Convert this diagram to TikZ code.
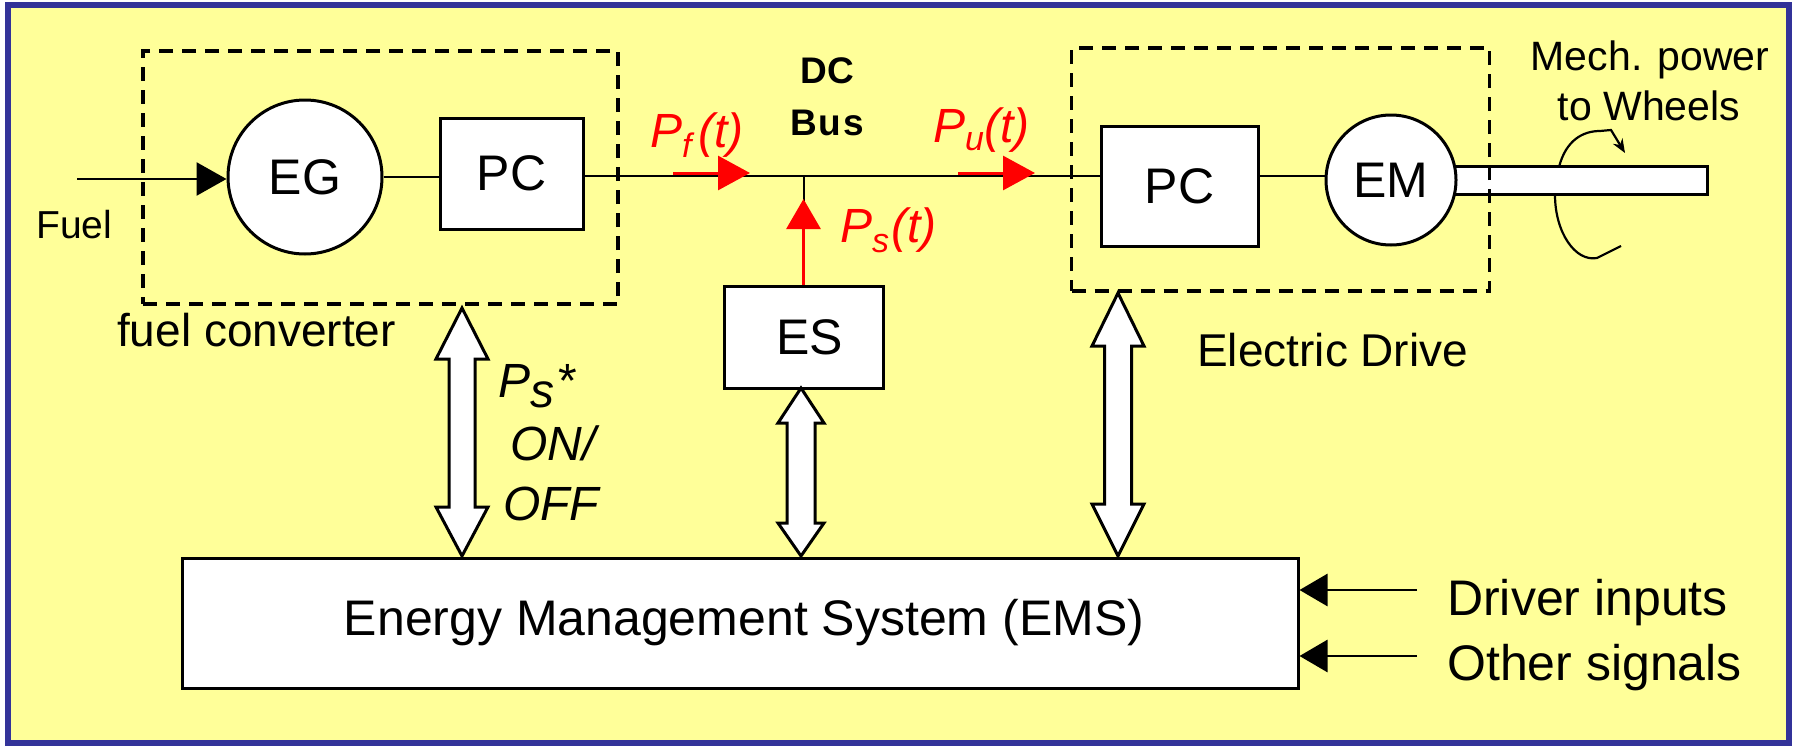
\documentclass[tikz,border=0pt]{standalone}
\usepackage{fontspec}
\setmainfont{Liberation Sans}
\usetikzlibrary{arrows.meta,calc}
\definecolor{bgyellow}{HTML}{FFFF99}
\definecolor{frameblue}{HTML}{333399}
\newcommand\fs[1]{\fontsize{#1}{#1}\selectfont}
\newcommand\lowsub[2]{\raisebox{-#2pt}{\fs{34}#1}}
\newcommand\fatarrow[6]{%
  \draw[fat] (#1) -- ($(#1)+(#3,#5)$) -- ($(#1)+(#4,#5)$) -- ($(#2)+(#4,-#6)$) -- ($(#2)+(#3,-#6)$) -- (#2)
    -- ($(#2)+(-#3,-#6)$) -- ($(#2)+(-#4,-#6)$) -- ($(#1)+(-#4,#5)$) -- ($(#1)+(-#3,#5)$) -- cycle;}
\begin{document}
\begin{tikzpicture}[x=1pt,y=-1pt,
  box/.style={draw, line width=3pt, fill=white, rectangle, inner sep=0pt, font=\fs{50}},
  circ/.style={draw, line width=3pt, fill=white, circle, inner sep=0pt, font=\fs{50}},
  dbox/.style={draw, line width=3.5pt, dash pattern=on 14pt off 9pt, rectangle, inner sep=0pt},
  wire/.style={line width=2.8pt},
  redarr/.style={draw=red, line width=3pt, -{Triangle[length=32pt,width=34pt]}},
  blkarr/.style={line width=2.8pt, -{Triangle[length=30pt,width=33pt]}},
  fat/.style={draw, line width=3pt, fill=white, line join=miter},
  rot/.style={line width=2.2pt},
  lbl/.style={inner sep=0pt, anchor=base west},
  clbl/.style={inner sep=0pt, anchor=base},
  redlbl/.style={lbl, text=red, font=\fs{48}\itshape},
  sig/.style={lbl, font=\fs{50}}]
  \useasboundingbox (0,0) rectangle (1797,747);
  \fill[white] (0,0) rectangle (1797,747);
  \draw[line width=6pt, draw=frameblue, fill=bgyellow] (8,5) rectangle (1789,743);

  % shaft (behind EM)
  \draw[line width=3pt, fill=white] (1391,166) rectangle (1707,194);

  % components
  \node[circ, minimum size=154pt] (eg) at (305,177) {EG};
  \node[box, minimum width=143pt, minimum height=111pt] (pc1) at (511.5,173.5) {PC};
  \node[box, minimum width=157pt, minimum height=120pt] (pc2) at (1179.5,186) {PC};
  \node[circ, minimum size=130pt] (em) at (1391,180) {EM};
  \node[box, minimum width=159pt, minimum height=102pt] (es) at (803.5,337) {\hspace*{12pt}ES};
  \node[box, minimum width=1116pt, minimum height=130pt] (ems) at (740,623) {\raisebox{-6pt}{\hspace*{8pt}Energy Management System (EMS)}};

  % wires
  \coordinate (jn) at (804,176);
  \coordinate (fuel0) at (77,179);
  \draw[wire] (eg.east) -- (eg.east -| pc1.west);
  \draw[wire] (pc1.east |- jn) -- (jn) -- (pc2.west |- jn);
  \draw[wire] (pc2.east |- jn) -- (em.west |- jn);
  \draw[wire] (jn) -- (es.north -| jn);
  \draw[blkarr] (fuel0) -- (fuel0 -| eg.west);

  % dashed groups
  \node[dbox, minimum width=475pt, minimum height=253pt] (fc) at (380.5,177.5) {};
  \node[dbox, minimum width=418pt, minimum height=243pt] (ed) at (1280.5,169.5) {};

  % red power flow arrows
  \coordinate (pf0) at (673,173); \coordinate (pf1) at (750,173);
  \coordinate (pu0) at (958,173); \coordinate (pu1) at (1035,173);
  \coordinate (pstip) at (803.5,199);
  \draw[redarr] (pf0) -- (pf1);
  \draw[redarr] (pu0) -- (pu1);
  \draw[redarr, -{Triangle[length=30pt,width=34pt]}] (es.north) -- (pstip);

  % signal arrows into EMS
  \coordinate (drv) at (1417,590);
  \coordinate (oth) at (1417,656);
  \draw[blkarr, -{Triangle[length=28pt,width=32pt]}] (drv) -- (drv -| ems.east);
  \draw[blkarr, -{Triangle[length=28pt,width=32pt]}] (oth) -- (oth -| ems.east);

  % fat double arrows
  \coordinate (a1t) at (462,308); \coordinate (a1b) at (462,556);
  \coordinate (a2t) at (801,388); \coordinate (a2b) at (801,556);
  \coordinate (a3t) at (1118,293); \coordinate (a3b) at (1118,556);
  \fatarrow{a1t}{a1b}{26}{13}{51}{49}
  \fatarrow{a2t}{a2b}{23}{14}{35}{33}
  \fatarrow{a3t}{a3b}{26}{13.5}{53}{52}

  % rotation symbol
  \draw[rot, -{Stealth[length=14pt,width=11pt]}] (1559,167) .. controls (1566,140) and (1583,131) .. (1600,131) -- (1611,130) -- (1625,153);
  \draw[rot] (1555,195) .. controls (1555,232) and (1575,262) .. (1597,258) -- (1621,246);

  % labels
  \node[lbl, font=\fs{39}] (tfuel) at (36,238) {Fuel};
  \node[lbl, font=\fs{46}] (tfc) at (117,346) {fuel converter};
  \node[lbl, font=\fs{46}] (ted) at (1197,366) {Electric Drive};
  \node[clbl, font=\fs{37}\bfseries] (tdc) at (827,83) {DC};
  \node[clbl, font=\fs{37}\bfseries] (tbus) at (827,135) {B\kern2pt u\kern2pt s};
  \node[clbl, font=\fs{41}] (tmech) at (1650,70) {Mech. power};
  \node[clbl, font=\fs{41}] (twh) at (1649,120) {to Wheels};
  \node[sig] (tdrv) at (1447,615) {Driver inputs};
  \node[sig] (toth) at (1447,680) {Other signals};
  \node[redlbl] (tpf) at (650,147) {P\lowsub{f}{10}\kern7pt(t)};
  \node[redlbl] (tpu) at (933,142) {P\lowsub{u}{8}(t)};
  \node[redlbl] (tps) at (840,242) {P\lowsub{s}{10}\kern2pt(t)};
  \node[lbl, font=\fs{48}\itshape] (tpsstar) at (498,397) {P\raisebox{-10pt}{s}\kern4pt\upshape *};
  \node[lbl, font=\fs{48}\itshape] (ton) at (510,460) {ON/};
  \node[lbl, font=\fs{48}\itshape] (toff) at (503,520) {OFF};
\end{tikzpicture}
\end{document}
